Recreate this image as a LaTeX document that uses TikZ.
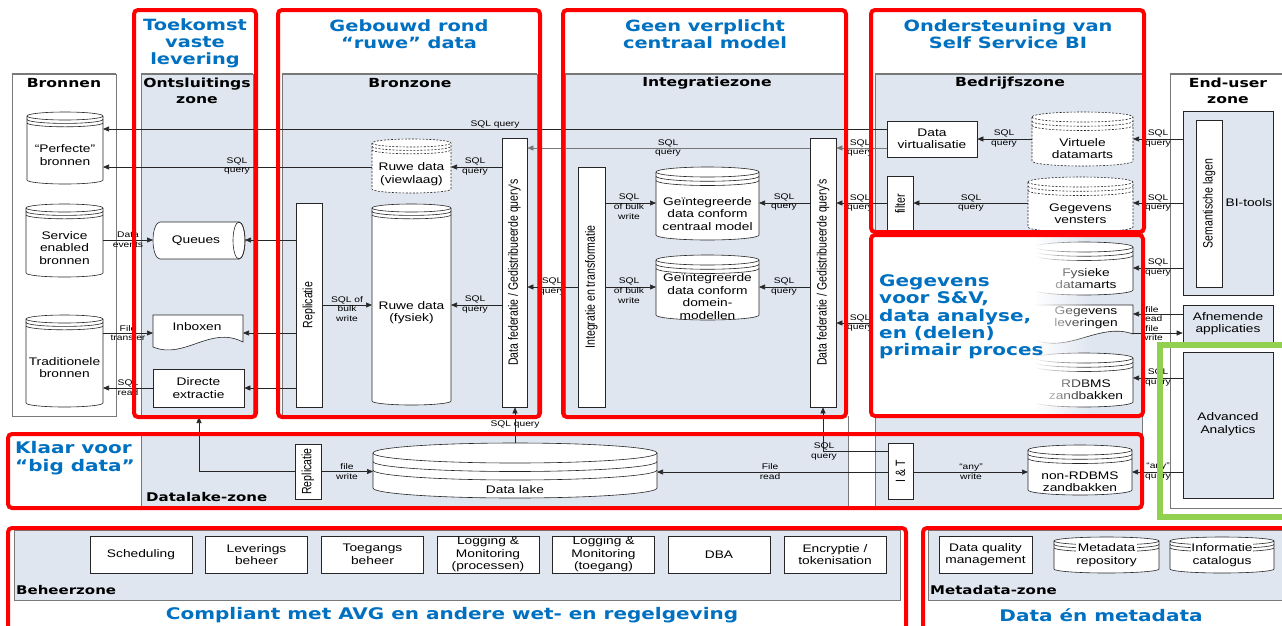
\documentclass[tikz,border=0pt]{standalone}
\usepackage{fontspec}
\setmainfont[FakeStretch=1.25]{Liberation Sans}
\newfontfamily\vfont[FakeStretch=1.25]{DejaVu Sans}
\newfontfamily\rfont[FakeStretch=0.78]{Liberation Sans}
\usetikzlibrary{arrows.meta,fadings}
\definecolor{zf}{RGB}{223,230,240}
\definecolor{zb}{RGB}{120,120,120}
\definecolor{ttlc}{RGB}{0,112,192}
\definecolor{grn}{RGB}{146,208,80}
\tikzfading[name=fadeout, left color=transparent!0, right color=transparent!100]
\newcommand\dbcyl[6][]{%
  \pgfmathsetmacro\cylrx{(#4-#2)/2}%
  \pgfmathsetmacro\cylta{#3+#6}%
  \pgfmathsetmacro\cylba{#5-#6}%
  \pgfmathsetmacro\cylda{\cylta+0.85*#6}%
  \pgfmathsetmacro\cyldb{\cylta+1.7*#6}%
  \filldraw[shp,#1] (#2,\cylta) -- (#2,\cylba) arc[start angle=180,end angle=0,x radius=\cylrx,y radius=#6] -- (#4,\cylta) arc[start angle=0,end angle=-180,x radius=\cylrx,y radius=#6] -- cycle;
  \draw[ln,#1] (#2,\cylta) arc[start angle=180,end angle=0,x radius=\cylrx,y radius=#6];
  \draw[ln,#1] (#2,\cylda) arc[start angle=180,end angle=0,x radius=\cylrx,y radius=#6];
  \draw[ln,#1] (#2,\cyldb) arc[start angle=180,end angle=0,x radius=\cylrx,y radius=#6];
}
\begin{document}
\begin{tikzpicture}[x=1pt,y=-1pt,
  shp/.style={draw=black!85, fill=white, line width=0.6},
  ln/.style={draw=black!85, line width=0.6},
  bx/.style={draw=black!85, fill=white, line width=0.6, inner sep=1pt, align=center, font=\fontsize{11}{12.5}\selectfont},
  bbx/.style={bx, fill=zf},
  anc/.style={inner sep=0pt, outer sep=0pt},
  txt/.style={inner sep=0pt, align=center, font=\fontsize{11}{12.5}\selectfont},
  rtxt/.style={inner sep=0pt, rotate=90, font=\rfont\fontsize{13.5}{14}\selectfont},
  lbl/.style={inner sep=0pt, align=center, font=\fontsize{8.2}{9.8}\selectfont},
  hdr/.style={inner sep=0pt, align=center, font=\vfont\bfseries\fontsize{12.5}{16}\selectfont},
  zhdr/.style={inner sep=0pt, anchor=west, font=\vfont\bfseries\fontsize{12}{14}\selectfont},
  ttl/.style={inner sep=0pt, align=center, text=ttlc, font=\vfont\bfseries\fontsize{15.5}{17}\selectfont},
  bigttl/.style={inner sep=0pt, align=left, text=ttlc, font=\vfont\bfseries\fontsize{16}{17.3}\selectfont},
  arr/.style={ln, -{Triangle[length=6pt,width=5pt]}},
  zone/.style={fill=zf, draw=zb, line width=0.7},
  wzone/.style={fill=white, draw=zb, line width=0.7},
  topl/.style={draw=zb, line width=2},
  redbox/.style={draw=red, line width=4, rounded corners=4},
  dsh/.style={dash pattern=on 2pt off 1.5pt},
]
\useasboundingbox (0,0) rectangle (1282,625);
\fill[white] (0,0) rectangle (1282,625);

% ---------- zones ----------
\node[wzone, minimum width=104, minimum height=342] (bron) at (64,245) {};
\node[zone, minimum width=112, minimum height=342] (ont) at (197,245) {};
\node[zone, minimum width=255, minimum height=342] (brz) at (409.5,245) {};
\node[zone, minimum width=279, minimum height=342] (intz) at (704.5,245) {};
\node[zone, minimum width=267, minimum height=433] (bedr) at (1008.5,290.5) {};
\node[wzone, minimum width=124, minimum height=434] (eu) at (1232,291) {};
\node[zone, minimum width=707, minimum height=73] (dlz) at (494.5,470.5) {};
\draw[zb, line width=0.7] (848,416) -- (848,434);
\node[zone, minimum width=886, minimum height=70] (beh) at (457,565) {};
\node[zone, minimum width=362, minimum height=70] (meta) at (1109,565) {};
\foreach \z in {bron,ont,brz,intz,bedr,eu} \draw[topl] (\z.north west) -- (\z.north east);

% ---------- headers ----------
\node[hdr] (hbron) at (64,83) {Bronnen};
\node[hdr] (hont) at (197,91) {Ontsluitings\\zone};
\node[hdr] (hbrz) at (410,83) {Bronzone};
\node[hdr] (hint) at (707,83) {Integratiezone};
\node[hdr] (hbed) at (1010,83) {Bedrijfszone};
\node[hdr] (heu) at (1228,91) {End-user\\zone};
\node[zhdr] (hdl) at (146,497) {Datalake-zone};
\node[zhdr] (hbeh) at (16,590) {Beheerzone};
\node[zhdr] (hmeta) at (930,590) {Metadata-zone};

% ---------- Bronnen ----------
\dbcyl{27}{112}{103}{184}{4}
\node[anc, minimum width=76, minimum height=72] (perf) at (65,148) {};
\node[txt] (perft) at (65,155) {“Perfecte”\\bronnen};
\dbcyl{26}{204}{103}{277}{4}
\node[anc, minimum width=77, minimum height=73] (svc) at (64.5,240.5) {};
\node[txt] (svct) at (64.5,248) {Service\\enabled\\bronnen};
\dbcyl{26}{315}{103}{407}{4}
\node[anc, minimum width=77, minimum height=92] (trad) at (64.5,361) {};
\node[txt] (tradt) at (64.5,367.5) {Traditionele\\bronnen};

% ---------- Ontsluitingszone ----------
\filldraw[shp] (160,222) -- (239,222) arc[start angle=-90,end angle=90,x radius=6,y radius=18.5] -- (160,259) arc[start angle=90,end angle=270,x radius=7,y radius=18.5] -- cycle;
\draw[ln] (239,240.5) ellipse[x radius=6, y radius=18.5];
\node[anc, minimum width=92, minimum height=37] (queue) at (199,240.5) {};
\node[txt] (queuet) at (196,240.5) {Queues};
\filldraw[shp] (153,315) -- (243,315) -- (243,342) .. controls (210,325) and (185,360) .. (153,347) -- cycle;
\node[anc, minimum width=90, minimum height=32] (inbox) at (198,331) {};
\node[txt] (inboxt) at (197,327) {Inboxen};
\node[bx, minimum width=91, minimum height=38] (direct) at (198.5,388) {Directe\\extractie};

% ---------- Bronzone ----------
\dbcyl[dsh]{372}{139}{451}{193}{4}
\node[anc, minimum width=79, minimum height=54] (view) at (411.5,166) {};
\node[txt] (viewt) at (411.5,174) {Ruwe data\\(viewlaag)};
\node[bx, minimum width=26, minimum height=204] (rep1) at (309,305) {};
\node[rtxt] (rep1t) at (rep1) {Replicatie};
\dbcyl{372}{204}{451}{405}{4}
\node[anc, minimum width=79, minimum height=201] (ruwe) at (411.5,304.5) {};
\node[txt] (ruwet) at (411.5,312.5) {Ruwe data\\(fysiek)};
\node[bx, minimum width=25, minimum height=269] (df1) at (514.5,272.5) {};
\node[rtxt] (df1t) at (df1) {Data federatie / Gedistribueerde query's};

% ---------- Integratiezone ----------
\node[bx, minimum width=27, minimum height=240] (integ) at (591.5,287) {};
\node[rtxt] (integt) at (integ) {Integratie en transformatie};
\dbcyl{656}{167}{759}{240}{5}
\node[anc, minimum width=103, minimum height=73] (cent) at (707.5,203.5) {};
\node[txt] (centt) at (707.5,214) {Geïntegreerde\\data conform\\centraal model};
\dbcyl{656}{255}{759}{320}{5}
\node[anc, minimum width=103, minimum height=65] (dom) at (707.5,287.5) {};
\node[txt] (domt) at (707.5,296.5) {Geïntegreerde\\data conform\\domein-\\modellen};
\node[bx, minimum width=26, minimum height=269] (df2) at (823,272.5) {};
\node[rtxt] (df2t) at (df2) {Data federatie / Gedistribueerde query's};

% ---------- Bedrijfszone ----------
\node[bx, minimum width=90, minimum height=36] (dv) at (932,139) {Data\\virtualisatie};
\dbcyl[dsh]{1032}{112}{1133}{166}{5}
\node[anc, minimum width=101, minimum height=54] (virt) at (1082.5,139) {};
\node[txt] (virtt) at (1082.5,148.5) {Virtuele\\datamarts};
\node[bx, minimum width=26, minimum height=56] (filt) at (900,204) {};
\node[rtxt] (filtt) at (filt) {filter};
\dbcyl[dsh]{1028}{177}{1133}{232}{5}
\node[anc, minimum width=105, minimum height=55] (venst) at (1080.5,204.5) {};
\node[txt] (venstt) at (1080.5,213.5) {Gegevens\\vensters};
\dbcyl{1035}{242}{1133}{295}{5}
\node[anc, minimum width=98, minimum height=53] (fys) at (1084,268.5) {};
\node[txt] (fyst) at (1086,278.5) {Fysieke\\datamarts};
\filldraw[shp] (1035,305) -- (1133,305) -- (1133,334) .. controls (1100,322) and (1070,353) .. (1035,340) -- cycle;
\node[anc, minimum width=98, minimum height=37] (glev) at (1084,323.5) {};
\node[txt] (glevt) at (1086,318) {Gegevens\\leveringen};
\dbcyl{1035}{353}{1133}{407}{5}
\node[anc, minimum width=98, minimum height=54] (rdb) at (1084,380) {};
\node[txt] (rdbt) at (1086,389.5) {RDBMS\\zandbakken};
\node[bx, minimum width=25, minimum height=56] (it) at (900.5,471) {};
\node[rtxt] (itt) at (it) {I \& T};
\dbcyl{1028}{445}{1132}{495}{5}
\node[anc, minimum width=104, minimum height=50] (nrdb) at (1080,470) {};
\node[txt] (nrdbt) at (1080,481.5) {non-RDBMS\\zandbakken};

% ---------- End-user zone ----------
\node[bbx, minimum width=90, minimum height=184] (bit) at (1228,203) {};
\node[txt] (bitt) at (1249,203) {BI-tools};
\node[bx, minimum width=26, minimum height=167] (sem) at (1209,203.5) {};
\node[rtxt] (semt) at (sem) {Semantische lagen};
\node[bbx, minimum width=90, minimum height=37] (afn) at (1228,323.5) {Afnemende\\applicaties};
\node[bbx, minimum width=90, minimum height=146] (adv) at (1228,425) {};
\node[txt] (advt) at (1228,424) {Advanced\\Analytics};

% ---------- Datalake ----------
\node[bx, minimum width=26, minimum height=55] (rep2) at (308,471.5) {};
\node[rtxt] (rep2t) at (rep2) {Replicatie};
\dbcyl{373}{443}{657}{498}{10}
\node[anc, minimum width=284, minimum height=55] (lake) at (515,470.5) {};
\node[txt] (laket) at (515,490) {Data lake};

% ---------- arrows ----------
\draw[arr] (dv.west |- 0,129) -- (perf.east |- 0,129);
\draw[arr] (view.west |- 0,167) -- (perf.east |- 0,167);
\draw[arr] (df1.west |- 0,167) -- (view.east |- 0,167);
\draw[arr] (rep1.west |- 0,240) -- (queue.east |- 0,240);
\draw[arr] (rep1.west |- 0,333) -- (inbox.east |- 0,333);
\draw[arr] (rep1.west |- 0,388) -- (direct.east |- 0,388);
\draw[arr] (svc.east |- 0,240) -- (queue.west |- 0,240);
\draw[arr] (trad.east |- 0,333) -- (inbox.west |- 0,333);
\draw[arr] (direct.west |- 0,388) -- (trad.east |- 0,388);
\draw[arr] (rep1.east |- 0,305) -- (ruwe.west |- 0,305);
\draw[arr] (df1.west |- 0,305) -- (ruwe.east |- 0,305);
\draw[arr] (integ.west |- 0,287) -- (df1.east |- 0,287);
\draw[arr, draw=zb] (df2.west |- 0,148) -- (df1.east |- 0,148);
\draw[arr] (integ.east |- 0,203) -- (cent.west |- 0,203);
\draw[arr] (df2.west |- 0,203) -- (cent.east |- 0,203);
\draw[arr] (integ.east |- 0,287) -- (dom.west |- 0,287);
\draw[arr] (df2.west |- 0,287) -- (dom.east |- 0,287);
\draw[arr, draw=zb] (dv.west |- 0,148) -- (df2.east |- 0,148);
\draw[arr] (filt.west |- 0,203) -- (df2.east |- 0,203);
\coordinate (r5) at (871,323);
\draw[arr] (r5) -- (df2.east |- r5);
\draw[arr] (virt.west |- 0,139) -- (dv.east |- 0,139);
\draw[arr] (venst.west |- 0,203) -- (filt.east |- 0,203);
\draw[arr] (bit.west |- 0,139) -- (virt.east |- 0,139);
\draw[arr] (bit.west |- 0,203) -- (venst.east |- 0,203);
\draw[arr] (bit.west |- 0,268) -- (fys.east |- 0,268);
\draw[arr] (afn.west |- 0,314) -- (glev.east |- 0,314);
\draw[arr] (glev.east |- 0,333) -- (afn.west |- 0,333);
\draw[arr] (adv.west |- 0,378) -- (rdb.east |- 0,378);
\draw[arr] (adv.west |- 0,472) -- (nrdb.east |- 0,472);
\draw[arr] (it.east |- 0,472) -- (nrdb.west |- 0,472);
\draw[arr] (it.west |- 0,472) -- (lake.east |- 0,472);
\draw[arr] (it.west |- 0,451) -| (df2.south);
\draw[arr] (lake.north) -- (lake.north |- df1.south);
\coordinate (ontb) at (199,417);
\draw[arr] (rep2.west) -| (ontb);
\draw[arr] (rep2.east) -- (lake.west |- rep2.east);

% ---------- connector labels ----------
\node[lbl] (l1) at (495,124) {SQL query};
\node[lbl] (l2) at (237,166) {SQL\\query};
\node[lbl] (l3) at (475,166.5) {SQL\\query};
\node[lbl] (l4) at (128,240) {Data\\events};
\node[lbl] (l5) at (128,333) {File\\transfer};
\node[lbl] (l6) at (128,388) {SQL\\read};
\node[lbl] (l7) at (347,309) {SQL of\\bulk\\write};
\node[lbl] (l8) at (475,304.5) {SQL\\query};
\node[lbl] (l9) at (552,286.5) {SQL\\query};
\node[lbl] (l10) at (668,148) {SQL\\query};
\node[lbl] (l11) at (629,206.5) {SQL\\of bulk\\write};
\node[lbl] (l12) at (629,290.5) {SQL\\of bulk\\write};
\node[lbl] (l13) at (784,202) {SQL\\query};
\node[lbl] (l14) at (784,286.5) {SQL\\query};
\node[lbl] (l15) at (860,148) {SQL\\query};
\node[lbl] (l16) at (860,203) {SQL\\query};
\node[lbl] (l17) at (860,323) {SQL\\query};
\node[lbl] (l18) at (1004,138.5) {SQL\\query};
\node[lbl] (l19) at (971,203) {SQL\\query};
\node[lbl] (l20) at (1158,138.5) {SQL\\query};
\node[lbl] (l21) at (1158,203) {SQL\\query};
\node[lbl] (l22) at (1158,267.5) {SQL\\query};
\node[lbl] (l23) at (1152,314) {file\\read};
\node[lbl] (l24) at (1152,333) {file\\write};
\node[lbl] (l25) at (1158,377.5) {SQL\\query};
\node[lbl] (l26) at (1158,471.5) {“any”\\query};
\node[lbl] (l27) at (971,471.5) {“any”\\write};
\node[lbl] (l28) at (770,471.5) {File\\read};
\node[lbl] (l29) at (824,451.5) {SQL\\query};
\node[lbl] (l30) at (515,424) {SQL query};
\node[lbl] (l31) at (347,471.5) {file\\write};

% ---------- Beheerzone ----------
\node[bx, minimum width=102, minimum height=37] (sch) at (141,554.5) {Scheduling};
\node[bx, minimum width=102, minimum height=37] (lev) at (256.5,554.5) {Leverings\\beheer};
\node[bx, minimum width=102, minimum height=37] (toe) at (372.5,554.5) {Toegangs\\beheer};
\node[bx, minimum width=102, minimum height=37] (logp) at (488,554.5) {Logging \&\\Monitoring\\(processen)};
\node[bx, minimum width=102, minimum height=37] (logt) at (603.5,554.5) {Logging \&\\Monitoring\\(toegang)};
\node[bx, minimum width=102, minimum height=37] (dba) at (719,554.5) {DBA};
\node[bx, minimum width=102, minimum height=37] (enc) at (835,554.5) {Encryptie /\\tokenisation};

% ---------- Metadata-zone ----------
\node[bx, minimum width=93, minimum height=37] (dqm) at (985.5,554.5) {Data quality\\management};
\dbcyl{1054}{537}{1159}{573}{4}
\node[txt, fill=white, inner sep=0.6pt] (mrep) at (1106.5,555) {Metadata\\repository};
\dbcyl{1170}{537}{1274}{573}{4}
\node[txt, fill=white, inner sep=0.6pt] (icat) at (1222,555) {Informatie\\catalogus};

% ---------- red box 5 overlay ----------
\fill[white] (871,235) rectangle (1036,416);
\fill[white, path fading=fadeout] (1034,235) rectangle (1092,416);
\node[bigttl, anchor=west] (gsv) at (879,317) {Gegevens\\voor S\&V,\\data analyse,\\en (delen)\\primair proces};

% ---------- titles ----------
\node[ttl] (t1) at (195,43) {Toekomst\\vaste\\levering};
\node[ttl] (t2) at (409,34.5) {Gebouwd rond\\“ruwe” data};
\node[ttl] (t3) at (705,34.5) {Geen verplicht\\centraal model};
\node[ttl] (t4) at (1008,34.5) {Ondersteuning van\\Self Service BI};
\node[bigttl, anchor=west] (t5) at (15,458) {Klaar voor\\“big data”};
\node[ttl, font=\vfont\bfseries\fontsize{16}{17}\selectfont] (t6) at (452,615) {Compliant met AVG en andere wet- en regelgeving};
\node[ttl, font=\vfont\bfseries\fontsize{16}{17}\selectfont] (t7) at (1101,615) {Data én metadata};

% ---------- red and green frames ----------
\draw[redbox] (134,10) rectangle (256,417);
\draw[redbox] (278,10) rectangle (540,417);
\draw[redbox] (563,10) rectangle (846,417);
\draw[redbox] (871,10) rectangle (1144,232);
\draw[redbox] (871,235) rectangle (1143,416);
\draw[redbox] (8,434) rectangle (1142,508);
\draw[redbox] (8,528) rectangle (906,640);
\draw[redbox] (923,528) rectangle (1295,640);
\draw[draw=grn, line width=6] (1160,345) rectangle (1295,517);
\end{tikzpicture}
\end{document}
